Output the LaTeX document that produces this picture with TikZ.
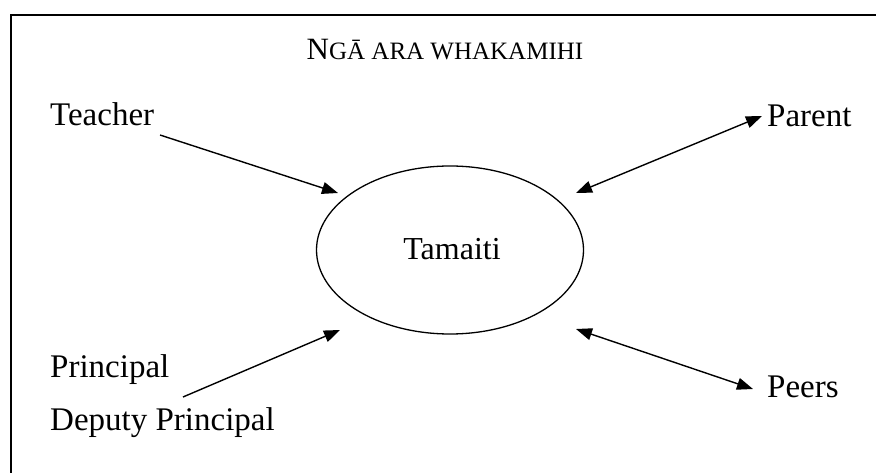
\documentclass[tikz,border=0pt]{standalone}
\usepackage{fontspec}
\setmainfont{Liberation Serif}
\usetikzlibrary{arrows.meta,shapes.geometric}
\begin{document}
\begin{tikzpicture}[x=1pt,y=-1pt,
  lbl/.style={font=\fontsize{33}{36}\selectfont, inner sep=0pt, anchor=base west},
  conn/.style={line width=1.4pt, -{Triangle[length=16pt,width=12pt]}},
  dconn/.style={line width=1.4pt, {Triangle[length=16pt,width=12pt]}-{Triangle[length=16pt,width=12pt]}},
  frame/.style={line width=1.8pt}]
\useasboundingbox (0,0) rectangle (876,473);
\coordinate (fb) at (11,473);
\coordinate (fc) at (11,15);
\coordinate (fr) at (876,15);
\draw[frame] (fb) -- (fc) -- (fr);
\node[inner sep=0pt, anchor=base] (title) at (445,60)
  {\fontsize{31}{34}\selectfont N\fontsize{25}{28}\selectfont GĀ ARA WHAKAMIHI};
\node[lbl] (teacher) at (50,126) {Teacher};
\node[lbl] (parent) at (767,127) {Parent};
\node[lbl] (principal) at (50,377) {Principal};
\node[lbl] (deputy) at (50,430) {Deputy Principal};
\node[lbl] (peers) at (767,397) {Peers};
\node[draw, line width=1.3pt, ellipse, minimum width=267pt, minimum height=168pt, inner sep=0pt] (child) at (450,250) {};
\node[font=\fontsize{32}{34}\selectfont, inner sep=0pt, anchor=base] (tam) at (452,260) {Tamaiti};
\coordinate (t1) at (160,135);
\coordinate (t2) at (338,193);
\coordinate (p1) at (762,116);
\coordinate (p2) at (576,193);
\coordinate (d1) at (183,397);
\coordinate (d2) at (340,330);
\coordinate (e1) at (576,329);
\coordinate (e2) at (753,389);
\draw[conn] (t1) -- (t2);
\draw[dconn] (p2) -- (p1);
\draw[conn] (d1) -- (d2);
\draw[dconn] (e1) -- (e2);
\end{tikzpicture}
\end{document}
